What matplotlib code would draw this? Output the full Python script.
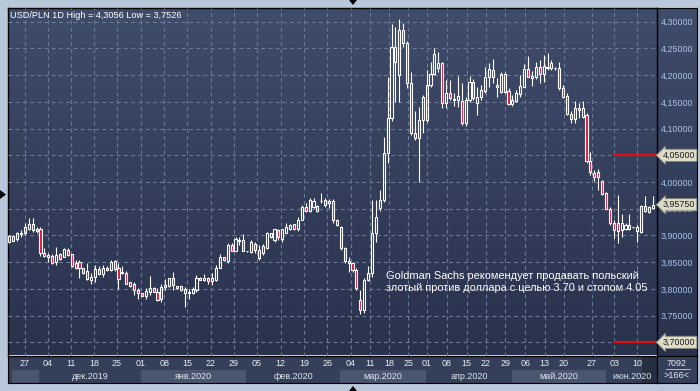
import numpy as np
import matplotlib
matplotlib.use("Agg")
import matplotlib.pyplot as plt
from matplotlib.patches import Rectangle, Polygon
from matplotlib.colors import LinearSegmentedColormap
import matplotlib.transforms as mtransforms

# daily USD/PLN candles (one entry per bar)
opens = [3.888, 3.899, 3.893, 3.902, 3.904, 3.913, 3.921, 3.913, 3.912, 3.867,
         3.860, 3.862, 3.851, 3.865, 3.860, 3.873, 3.865, 3.849, 3.851, 3.839,
         3.834, 3.817, 3.822, 3.837, 3.827, 3.840, 3.835, 3.852, 3.840, 3.830,
         3.830, 3.812, 3.809, 3.798, 3.792, 3.787, 3.795, 3.801, 3.794, 3.781,
         3.803, 3.805, 3.820, 3.805, 3.805, 3.799, 3.792, 3.793, 3.798, 3.820,
         3.817, 3.821, 3.815, 3.817, 3.840, 3.859, 3.853, 3.882, 3.871, 3.892,
         3.891, 3.870, 3.869, 3.884, 3.873, 3.867, 3.876, 3.904, 3.891, 3.910,
         3.893, 3.905, 3.913, 3.921, 3.912, 3.929, 3.953, 3.946, 3.954, 3.955,
         3.964, 3.966, 3.960, 3.965, 3.929, 3.915, 3.876, 3.853, 3.848, 3.835,
         3.780, 3.760, 3.817, 3.829, 3.904, 3.951, 3.966, 4.054, 4.119, 4.253,
         4.200, 4.284, 4.260, 4.185, 4.091, 4.082, 4.116, 4.116, 4.182, 4.203,
         4.213, 4.222, 4.147, 4.167, 4.156, 4.153, 4.152, 4.110, 4.153, 4.188,
         4.147, 4.160, 4.171, 4.196, 4.210, 4.182, 4.169, 4.202, 4.171, 4.146,
         4.152, 4.165, 4.178, 4.211, 4.198, 4.196, 4.216, 4.203, 4.216, 4.213,
         4.214, 4.213, 4.175, 4.161, 4.127, 4.117, 4.135, 4.122, 4.125, 4.040,
         4.017, 4.019, 4.001, 3.980, 3.949, 3.923, 3.923, 3.910, 3.912, 3.920,
         3.915, 3.915, 3.907, 3.955, 3.943, 3.952]
highs = [3.900, 3.901, 3.907, 3.910, 3.924, 3.932, 3.932, 3.916, 3.915, 3.876,
         3.867, 3.865, 3.879, 3.868, 3.876, 3.876, 3.866, 3.855, 3.854, 3.840,
         3.848, 3.829, 3.845, 3.843, 3.845, 3.842, 3.854, 3.854, 3.849, 3.843,
         3.834, 3.813, 3.812, 3.801, 3.793, 3.801, 3.825, 3.803, 3.801, 3.809,
         3.819, 3.821, 3.831, 3.806, 3.806, 3.804, 3.799, 3.803, 3.826, 3.822,
         3.828, 3.823, 3.829, 3.845, 3.865, 3.860, 3.885, 3.886, 3.897, 3.897,
         3.903, 3.871, 3.891, 3.887, 3.882, 3.884, 3.907, 3.905, 3.913, 3.913,
         3.913, 3.924, 3.922, 3.922, 3.935, 3.957, 3.960, 3.971, 3.971, 3.957,
         3.980, 3.971, 3.968, 3.968, 3.930, 3.918, 3.878, 3.860, 3.851, 3.839,
         3.798, 3.820, 3.842, 3.966, 3.966, 3.985, 4.085, 4.197, 4.296, 4.290,
         4.3056, 4.298, 4.263, 4.206, 4.132, 4.141, 4.162, 4.210, 4.225, 4.250,
         4.244, 4.225, 4.191, 4.190, 4.166, 4.198, 4.185, 4.160, 4.198, 4.192,
         4.178, 4.181, 4.216, 4.222, 4.231, 4.194, 4.206, 4.205, 4.175, 4.163,
         4.172, 4.200, 4.220, 4.235, 4.208, 4.225, 4.228, 4.238, 4.241, 4.228,
         4.216, 4.225, 4.182, 4.166, 4.133, 4.152, 4.147, 4.152, 4.130, 4.057,
         4.022, 4.024, 4.004, 3.982, 3.954, 3.929, 3.976, 3.941, 3.924, 3.941,
         3.916, 3.920, 3.957, 3.973, 3.955, 3.973]
lows = [3.886, 3.889, 3.889, 3.898, 3.901, 3.910, 3.907, 3.904, 3.862, 3.859,
        3.851, 3.847, 3.845, 3.854, 3.859, 3.861, 3.841, 3.837, 3.820, 3.828,
        3.817, 3.810, 3.813, 3.826, 3.823, 3.833, 3.833, 3.833, 3.799, 3.828,
        3.809, 3.804, 3.789, 3.782, 3.786, 3.782, 3.789, 3.794, 3.778, 3.775,
        3.798, 3.804, 3.798, 3.799, 3.796, 3.767, 3.781, 3.790, 3.795, 3.816,
        3.815, 3.809, 3.807, 3.815, 3.839, 3.852, 3.848, 3.870, 3.870, 3.882,
        3.870, 3.869, 3.867, 3.868, 3.854, 3.863, 3.874, 3.896, 3.888, 3.891,
        3.888, 3.904, 3.910, 3.910, 3.909, 3.928, 3.944, 3.943, 3.951, 3.944,
        3.960, 3.954, 3.951, 3.924, 3.918, 3.873, 3.849, 3.832, 3.832, 3.798,
        3.7526, 3.754, 3.815, 3.823, 3.888, 3.946, 3.963, 4.035, 4.115, 4.150,
        4.150, 4.253, 4.175, 4.088, 4.079, 4.000, 4.091, 4.113, 4.178, 4.200,
        4.206, 4.138, 4.138, 4.153, 4.142, 4.141, 4.107, 4.105, 4.150, 4.153,
        4.125, 4.153, 4.166, 4.177, 4.185, 4.160, 4.167, 4.167, 4.144, 4.142,
        4.150, 4.160, 4.177, 4.196, 4.180, 4.192, 4.185, 4.188, 4.210, 4.210,
        4.210, 4.173, 4.157, 4.125, 4.110, 4.110, 4.119, 4.120, 4.036, 4.013,
        4.001, 3.985, 3.976, 3.948, 3.920, 3.895, 3.885, 3.898, 3.910, 3.910,
        3.914, 3.888, 3.905, 3.944, 3.942, 3.951]
closes = [3.899, 3.890, 3.904, 3.905, 3.916, 3.921, 3.910, 3.909, 3.867, 3.862,
          3.863, 3.849, 3.863, 3.856, 3.874, 3.863, 3.843, 3.840, 3.839, 3.830,
          3.818, 3.823, 3.837, 3.828, 3.840, 3.835, 3.851, 3.837, 3.818, 3.832,
          3.810, 3.806, 3.798, 3.792, 3.787, 3.796, 3.801, 3.795, 3.779, 3.803,
          3.808, 3.820, 3.807, 3.801, 3.798, 3.792, 3.794, 3.799, 3.821, 3.817,
          3.821, 3.815, 3.821, 3.840, 3.859, 3.854, 3.882, 3.871, 3.893, 3.890,
          3.871, 3.870, 3.887, 3.872, 3.857, 3.880, 3.904, 3.898, 3.912, 3.897,
          3.912, 3.915, 3.920, 3.912, 3.929, 3.954, 3.946, 3.966, 3.965, 3.946,
          3.965, 3.957, 3.965, 3.928, 3.920, 3.876, 3.853, 3.848, 3.835, 3.801,
          3.760, 3.817, 3.829, 3.904, 3.934, 3.966, 4.054, 4.119, 4.253, 4.225,
          4.284, 4.260, 4.185, 4.091, 4.082, 4.116, 4.160, 4.182, 4.203, 4.240,
          4.222, 4.147, 4.166, 4.157, 4.154, 4.161, 4.110, 4.153, 4.188, 4.157,
          4.160, 4.173, 4.196, 4.211, 4.196, 4.177, 4.202, 4.169, 4.146, 4.153,
          4.166, 4.180, 4.211, 4.197, 4.194, 4.216, 4.203, 4.217, 4.214, 4.222,
          4.213, 4.175, 4.160, 4.127, 4.117, 4.138, 4.138, 4.138, 4.040, 4.019,
          4.010, 4.009, 3.978, 3.949, 3.923, 3.910, 3.909, 3.923, 3.920, 3.912,
          3.915, 3.909, 3.955, 3.946, 3.954, 3.9575]

# weekly date ticks (bar index) and month bands
tick_pos = [4.0, 9.9, 15.8, 21.7, 27.6, 33.7, 39.7, 45.6, 51.6, 57.6, 63.5, 69.6,
            75.6, 81.5, 87.6, 92.5, 97.4, 102.3, 107.1, 112.2, 117.3, 122.2, 127.2,
            132.3, 137.3, 142.2, 149.3, 155.1, 161.0]
tick_labels = ["27", "04", "11", "18", "25", "01", "08", "15", "22", "29", "05", "12",
               "19", "26", "04", "11", "18", "25", "01", "08", "15", "22", "29",
               "06", "13", "20", "27", "03", "10"]
month_labels = ["", "дек.2019", "янв.2020", "фев.2020", "мар.2020", "апр.2020",
                "май.2020", "июн.2020"]
month_starts = [0.7, 7.6, 33.8, 60.7, 84.8, 106.8, 128.9, 153.0]

price_levels = [3.70, 3.75, 3.80, 3.85, 3.90, 3.95, 4.00, 4.05, 4.10, 4.15, 4.20, 4.25, 4.30]
target_price = 3.70
stop_price = 4.05
last_close = closes[-1]
level_start = "03"          # red lines start at this week tick (June 3)
bars_total = 166

note = ("Goldman Sachs рекомендует продавать польский\n"
        "злотый против доллара с целью 3.70 и стопом 4.05")
header = "USD/PLN 1D High = 4,3056 Low = 3,7526"

plt.rcParams["font.family"] = ["Liberation Sans", "DejaVu Sans"]

W, H = 700, 391
XMIN, XMAX = -0.33, 166.07
YMIN, YMAX = 3.6754, 4.3256
RED = "#e0143c"
GRID = "#6b7a97"
bg_cmap = LinearSegmentedColormap.from_list("bg", ["#29324d", "#3f4c6a"])


def box(x0, y0, x1, y1):
    """pixel box (origin top-left) -> figure fraction rect"""
    return [x0 / W, 1 - y1 / H, (x1 - x0) / W, (y1 - y0) / H]


def fmt(v):
    return f"{v:.5f}".replace(".", ",")


fig = plt.figure(figsize=(7, 3.91), dpi=100, facecolor="#b9c8da")

# right price panel background (under the main axes' tick labels)
ax_r = fig.add_axes(box(657, 8, 697, 355.5))
ax_r.imshow(np.linspace(0, 1, 256)[:, None], extent=[0, 1, 0, 1], origin="lower",
            aspect="auto", cmap=bg_cmap)
ax_r.set_xlim(0, 1)
ax_r.set_ylim(0, 1)
ax_r.set_xticks([])
ax_r.set_yticks([])
for s in ax_r.spines.values():
    s.set_color("black")
ax_r.set_zorder(0)

# main chart
ax = fig.add_axes(box(8, 8, 657, 355.5))
ax.set_zorder(2)
ax.imshow(np.linspace(0, 1, 256)[:, None], extent=[XMIN, XMAX, YMIN, YMAX], origin="lower",
          aspect="auto", cmap=bg_cmap, zorder=0)

x = np.arange(len(opens))
o = np.array(opens)
c = np.array(closes)
top = np.maximum(o, c)
bot = np.minimum(o, c)
ax.vlines(x, top, highs, color="white", lw=0.8, zorder=3)
ax.vlines(x, lows, bot, color="white", lw=0.8, zorder=3)
w = 0.55
for i in range(len(opens)):
    ax.add_patch(Rectangle((x[i] - w / 2, bot[i]), w, top[i] - bot[i],
                           facecolor=RED if c[i] < o[i] else "none",
                           edgecolor="white", lw=0.8, zorder=3))

ax.set_xlim(XMIN, XMAX)
ax.set_ylim(YMIN, YMAX)
ax.set_xticks(tick_pos)
ax.set_yticks(price_levels)
# levels that carry a price tag show their value in the tag instead
ax.set_yticklabels(["" if v in (target_price, stop_price) else fmt(v) for v in price_levels])
ax.yaxis.tick_right()
ax.tick_params(axis="x", length=0, labelbottom=False)
ax.tick_params(axis="y", length=0, pad=2.5, labelsize=6.4, labelcolor="#a9c5ec")
ax.grid(True, color=GRID, lw=0.8, linestyle=(0, (3.5, 3)))
ax.set_axisbelow(False)
for s in ax.spines.values():
    s.set_color("black")
    s.set_linewidth(1.0)

# target / stop lines with price tags
x0_line = tick_pos[tick_labels.index(level_start, 20)]
ax.hlines([target_price, stop_price], x0_line, XMAX, color="#e01010", lw=1.6, zorder=4)
trans = mtransforms.blended_transform_factory(ax.transAxes, ax.transData)
for v in [stop_price, last_close, target_price]:
    ax.text(1.009, v, fmt(v), transform=trans, ha="left", va="center", fontsize=6.4,
            color="#1e1e1e", clip_on=False, zorder=6,
            bbox=dict(boxstyle="larrow,pad=0.18", fc="#dcdbc5", ec="#85867a", lw=0.6))

ax.text(0.003, 0.978, header, transform=ax.transAxes, ha="left", va="center",
        fontsize=6.6, color="white", zorder=5)
ax.text(96.6, 3.833, note, ha="left", va="top", fontsize=7.95, color="white",
        linespacing=1.2, zorder=5)

# date axis
ax_d = fig.add_axes(box(8, 355.5, 657, 383))
ax_d.set_facecolor("#343f59")
ax_d.set_xlim(XMIN, XMAX)
ax_d.set_ylim(0, 1)
ax_d.set_xticks([])
ax_d.set_yticks([])
for s in ax_d.spines.values():
    s.set_color("black")
month_ends = month_starts[1:] + [XMAX]
for k, (lab, a, b) in enumerate(zip(month_labels, month_starts, month_ends)):
    if k % 2 == 0:
        ax_d.add_patch(Rectangle((a, 0), b - a, 0.47, facecolor="#4a5670", lw=0))
    if lab:
        ax_d.text((a + b) / 2, 0.25, lab, ha="center", va="center", fontsize=6.5,
                  color="#dfe5ee")
for p, lab in zip(tick_pos, tick_labels):
    ax_d.text(p, 0.7, lab, ha="center", va="center", fontsize=6.5, color="#e6ebf2")
ax_d.add_patch(Rectangle((162.2, 0), XMAX - 162.2, 1, facecolor="black", alpha=0.25, lw=0))

# bottom-right counter box
ax_b = fig.add_axes(box(657, 355.5, 697, 383))
ax_b.set_facecolor("#343f59")
ax_b.set_xlim(0, 1)
ax_b.set_ylim(0, 1)
ax_b.set_xticks([])
ax_b.set_yticks([])
for s in ax_b.spines.values():
    s.set_color("black")
ax_b.text(0.5, 0.71, "7092", ha="center", va="center", fontsize=6.5, color="#e6ebf2")
ax_b.plot([0.22, 0.82], [0.52, 0.52], color="#c8d0dc", lw=0.6)
ax_b.text(0.5, 0.28, f">{bars_total}<", ha="center", va="center", fontsize=6.5,
          color="#e6ebf2")

# little scroll markers on the frame
for pts in ([(0, 190), (6, 194.5), (0, 199)],
            [(349, 0), (357, 0), (353, 5)],
            [(349, 391), (357, 391), (353, 386)]):
    fig.add_artist(Polygon([(px / W, 1 - py / H) for px, py in pts], closed=True,
                           transform=fig.transFigure, facecolor="black", lw=0))

fig.savefig("out.png", dpi=100, facecolor=fig.get_facecolor())
